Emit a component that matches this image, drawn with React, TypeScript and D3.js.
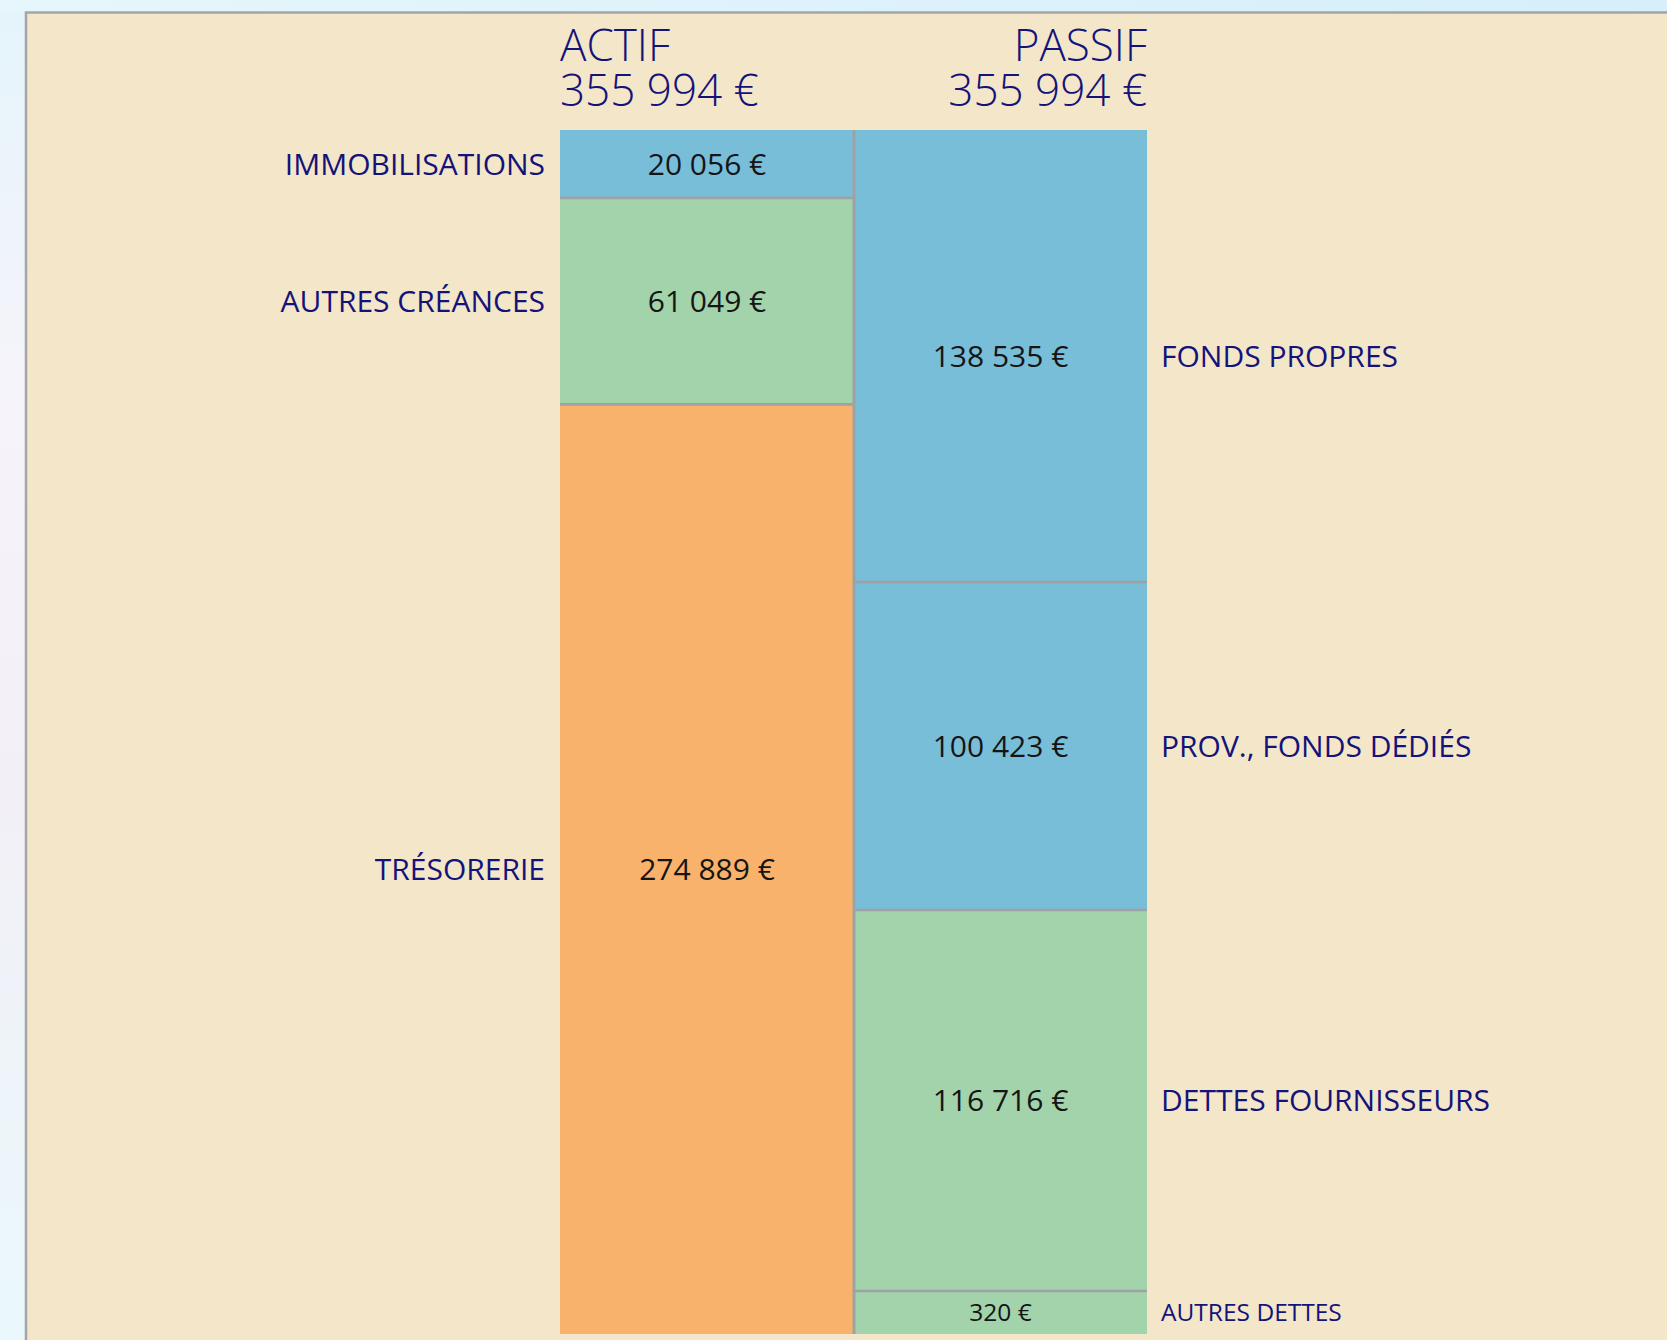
import React from "react";
import * as d3 from "d3";

const actifLabels = ["IMMOBILISATIONS", "AUTRES CRÉANCES", "TRÉSORERIE"];
const actifValues = [20056, 61049, 274889];
const passifLabels = ["FONDS PROPRES", "PROV., FONDS DÉDIÉS", "DETTES FOURNISSEURS", "AUTRES DETTES"];
const passifValues = [138535, 100423, 116716, 320];
const actifTitle = "ACTIF";
const passifTitle = "PASSIF";

const actifColors = ["#79BED9", "#A2D3AA", "#F9B26B"];
const passifColors = ["#79BED9", "#79BED9", "#A2D3AA", "#A2D3AA"];

const W = 1667;
const H = 1340;
const TOP = 130;
const BOTTOM = 1334;
const MIN_H = 43;
const X0 = 560;
const XM = 854;
const X1 = 1147;
const FONT = "'Open Sans', 'Noto Sans', sans-serif";
const NAVY = "#13137A";
const LINE = "#9FA2A5";

const fr = d3.formatLocale({ decimal: ",", thousands: "\u00a0", grouping: [3], currency: ["", " €"] });
const fmt = (v: number) => fr.format(",d")(v) + "\u00a0€";

type Seg = { label: string; value: number; y0: number; y1: number; color: string };

function layout(labels: string[], values: number[], colors: string[], minH: number): Seg[] {
  const total = d3.sum(values);
  const full = d3.scaleLinear().domain([0, total]).range([0, BOTTOM - TOP]);
  const small = values.map((v) => full(v) < minH);
  const nSmall = small.filter(Boolean).length;
  const bigTotal = d3.sum(values.filter((_, i) => !small[i]));
  const s = d3.scaleLinear().domain([0, bigTotal]).range([0, BOTTOM - TOP - nSmall * minH]);
  let y = TOP;
  return values.map((v, i) => {
    const h = small[i] ? minH : s(v);
    const seg = { label: labels[i], value: v, y0: y, y1: y + h, color: colors[i] };
    y += h;
    return seg;
  });
}

export default function App() {
  const actif = layout(actifLabels, actifValues, actifColors, 0);
  const passif = layout(passifLabels, passifValues, passifColors, MIN_H);
  const actifTotal = d3.sum(actifValues);
  const passifTotal = d3.sum(passifValues);

  const renderCol = (segs: Seg[], x0: number, x1: number, side: "left" | "right") => (
    <g>
      {segs.map((d, i) => (
        <rect key={"r" + i} x={x0} y={d.y0} width={x1 - x0} height={d.y1 - d.y0} fill={d.color} />
      ))}
      {segs.slice(1).map((d, i) => (
        <line key={"l" + i} x1={x0} x2={x1} y1={d.y0} y2={d.y0} stroke={LINE} strokeWidth={2.7} />
      ))}
      {segs.map((d, i) => {
        const h = d.y1 - d.y0;
        const fs = h < 60 ? 24.5 : 30;
        const cy = (d.y0 + d.y1) / 2 + fs * 0.36;
        return (
          <g key={"t" + i}>
            <text x={(x0 + x1) / 2} y={cy} textAnchor="middle" fontSize={fs} fill="#151515" fontFamily={FONT} fontWeight={400}>
              {fmt(d.value)}
            </text>
            <text
              x={side === "left" ? x0 - 15 : x1 + 14}
              y={cy}
              textAnchor={side === "left" ? "end" : "start"}
              fontSize={fs}
              fill={NAVY}
              fontFamily={FONT}
              fontWeight={400}
            >
              {d.label}
            </text>
          </g>
        );
      })}
    </g>
  );

  return (
    <svg width={W} height={H} style={{ position: "absolute", left: 0, top: 0, display: "block" }}>
      <defs>
        <linearGradient id="bgTop" x1="0" y1="0" x2="1" y2="0">
          <stop offset="0" stopColor="#E6F6FC" />
          <stop offset="0.5" stopColor="#DDF2FB" />
          <stop offset="1" stopColor="#D6EFFA" />
        </linearGradient>
        <linearGradient id="bgLeft" x1="0" y1="0" x2="0" y2="1">
          <stop offset="0" stopColor="#E4F4FB" />
          <stop offset="0.3" stopColor="#F6F4FA" />
          <stop offset="0.6" stopColor="#F2F0F6" />
          <stop offset="1" stopColor="#EAF8FC" />
        </linearGradient>
      </defs>
      <rect x={0} y={0} width={W} height={H} fill="url(#bgLeft)" />
      <rect x={0} y={0} width={W} height={13} fill="url(#bgTop)" />
      <rect x={26} y={12.5} width={W} height={H} fill="#F4E6C9" stroke="#A3A5A8" strokeWidth={2.5} />

      <text x={X0} y={61} fontSize={44} fill={NAVY} fontFamily={FONT} fontWeight={300}>{actifTitle}</text>
      <text x={X0} y={106} fontSize={44} fill={NAVY} fontFamily={FONT} fontWeight={300}>{fmt(actifTotal)}</text>
      <text x={X1} y={61} fontSize={44} fill={NAVY} fontFamily={FONT} fontWeight={300} textAnchor="end">{passifTitle}</text>
      <text x={X1} y={106} fontSize={44} fill={NAVY} fontFamily={FONT} fontWeight={300} textAnchor="end">{fmt(passifTotal)}</text>

      {renderCol(actif, X0, XM, "left")}
      {renderCol(passif, XM, X1, "right")}
      <line x1={XM} x2={XM} y1={TOP} y2={BOTTOM} stroke={LINE} strokeWidth={3} />
    </svg>
  );
}
